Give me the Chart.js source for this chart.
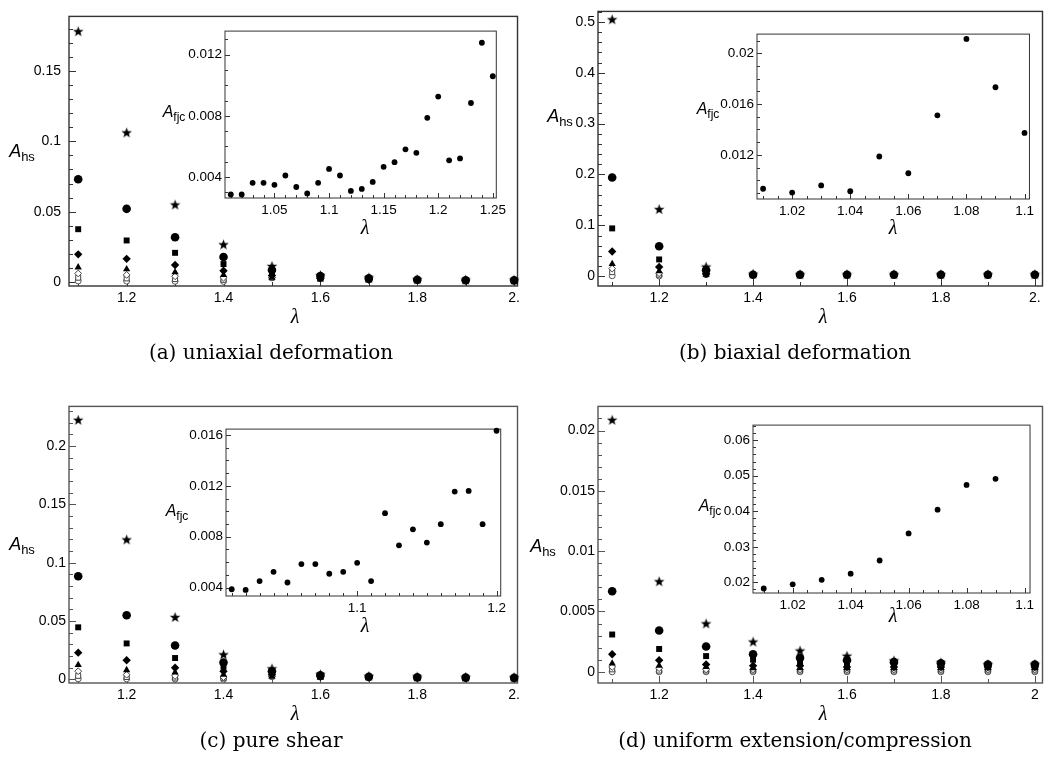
<!DOCTYPE html>
<html><head><meta charset="utf-8">
<script src="https://cdn.jsdelivr.net/npm/chart.js@4.4.1/dist/chart.umd.min.js"></script>
<style>
body{margin:0;background:#fff;width:1048px;height:770px;position:relative;overflow:hidden;font-family:"Liberation Sans",Arial,sans-serif;}
canvas{position:absolute;}
.lbl{position:absolute;white-space:nowrap;color:#000;transform:translate(-50%,-50%);line-height:1;}
.ah{font-style:italic;font-size:18px;}
.ah sub{font-style:normal;font-size:13px;vertical-align:-4px;}
.af{font-style:italic;font-size:16px;}
.af sub{font-style:normal;font-size:12px;vertical-align:-4px;}
.lam{font-family:"Liberation Serif",serif;font-style:italic;font-size:20px;}
.cap{font-family:"DejaVu Serif",serif;font-size:20px;}
</style></head><body>
<canvas id="ma" width="524" height="335" style="left:0;top:0"></canvas>
<canvas id="mb" width="524" height="335" style="left:524px;top:0"></canvas>
<canvas id="mc" width="524" height="340" style="left:0;top:395px"></canvas>
<canvas id="md" width="524" height="340" style="left:524px;top:395px"></canvas>
<canvas id="ia" width="335" height="206" style="left:175px;top:20px"></canvas>
<canvas id="ib" width="331" height="204" style="left:707px;top:23px"></canvas>
<canvas id="ic" width="334" height="206" style="left:176px;top:418px"></canvas>
<canvas id="id" width="335" height="207" style="left:703px;top:414px"></canvas>

<div class="lbl ah" style="left:22px;top:152px"><i>A</i><sub>hs</sub></div>
<div class="lbl ah" style="left:560px;top:117px"><i>A</i><sub>hs</sub></div>
<div class="lbl ah" style="left:22px;top:545px"><i>A</i><sub>hs</sub></div>
<div class="lbl ah" style="left:543px;top:547px"><i>A</i><sub>hs</sub></div>
<div class="lbl af" style="left:174px;top:113px"><i>A</i><sub>fjc</sub></div>
<div class="lbl af" style="left:708px;top:110px"><i>A</i><sub>fjc</sub></div>
<div class="lbl af" style="left:177px;top:512px"><i>A</i><sub>fjc</sub></div>
<div class="lbl af" style="left:710px;top:507px"><i>A</i><sub>fjc</sub></div>
<div class="lbl lam" style="left:295px;top:316px">λ</div>
<div class="lbl lam" style="left:823px;top:316px">λ</div>
<div class="lbl lam" style="left:295px;top:713px">λ</div>
<div class="lbl lam" style="left:823px;top:713px">λ</div>
<div class="lbl lam" style="left:365px;top:227px">λ</div>
<div class="lbl lam" style="left:893px;top:227px">λ</div>
<div class="lbl lam" style="left:365px;top:625px">λ</div>
<div class="lbl lam" style="left:893px;top:615px">λ</div>
<div class="lbl cap" style="left:271px;top:352px">(a) uniaxial deformation</div>
<div class="lbl cap" style="left:795px;top:352px">(b) biaxial deformation</div>
<div class="lbl cap" style="left:271px;top:740px">(c) pure shear</div>
<div class="lbl cap" style="left:795px;top:740px">(d) uniform extension/compression</div>

<script>
// ---------------- DATA ----------------
const lambdaMain = [1.1, 1.2, 1.3, 1.4, 1.5, 1.6, 1.7, 1.8, 1.9, 2.0];

const uniStar     = [0.178, 0.106, 0.0547, 0.0264, 0.011, 0.0045, 0.0028, 0.0016, 0.0013, 0.0012];
const uniCircle   = [0.073, 0.052, 0.0318, 0.0177, 0.0085, 0.0042, 0.0025, 0.0015, 0.0012, 0.0011];
const uniSquare   = [0.0375, 0.0295, 0.0207, 0.0127, 0.0065, 0.0033, 0.002, 0.0013, 0.001, 0.0009];
const uniDiamond  = [0.0196, 0.0164, 0.012, 0.008, 0.0045, 0.0025, 0.0016, 0.0011, 0.0009, 0.0008];
const uniTriangle = [0.0104, 0.009, 0.007, 0.005, 0.003, 0.0018, 0.0012, 0.0009, 0.0008, 0.0007];
const uniODiamond = [0.006, 0.005, 0.004, 0.003, 0.003, 0.0025, 0.0016, 0.0011, 0.0009, 0.0008];
const uniOSquare  = [0.003, 0.0025, 0.002, 0.0015, 0.003, 0.0025, 0.0016, 0.0011, 0.0009, 0.0008];
const uniOCircle  = [0.0007, 0.0006, 0.0005, 0.0004, 0.003, 0.0025, 0.0016, 0.0011, 0.0009, 0.0008];

const biStar     = [0.504, 0.131, 0.018, 0.004, 0.003, 0.003, 0.003, 0.003, 0.003, 0.003];
const biCircle   = [0.194, 0.059, 0.012, 0.003, 0.003, 0.003, 0.003, 0.003, 0.003, 0.003];
const biSquare   = [0.094, 0.033, 0.008, 0.003, 0.003, 0.003, 0.003, 0.003, 0.003, 0.003];
const biDiamond  = [0.0486, 0.018, 0.005, 0.003, 0.003, 0.003, 0.003, 0.003, 0.003, 0.003];
const biTriangle = [0.024, 0.01, 0.003, 0.003, 0.003, 0.003, 0.003, 0.003, 0.003, 0.003];
const biODiamond = [0.015, 0.006, 0.004, 0.003, 0.003, 0.003, 0.003, 0.003, 0.003, 0.003];
const biOSquare  = [0.008, 0.003, 0.004, 0.003, 0.003, 0.003, 0.003, 0.003, 0.003, 0.003];
const biOCircle  = [0.001, 0.0005, 0.003, 0.003, 0.003, 0.003, 0.003, 0.003, 0.003, 0.003];

const psStar     = [0.222, 0.1195, 0.053, 0.021, 0.009, 0.004, 0.0025, 0.002, 0.0017, 0.0015];
const psCircle   = [0.0884, 0.055, 0.029, 0.0144, 0.007, 0.0035, 0.0022, 0.0017, 0.0015, 0.0013];
const psSquare   = [0.0446, 0.0308, 0.0183, 0.011, 0.0055, 0.003, 0.002, 0.0015, 0.0013, 0.0012];
const psDiamond  = [0.0229, 0.0164, 0.010, 0.007, 0.004, 0.0022, 0.0016, 0.0013, 0.0011, 0.001];
const psTriangle = [0.0124, 0.008, 0.006, 0.004, 0.0025, 0.0015, 0.0012, 0.001, 0.0009, 0.0008];
const psODiamond = [0.007, 0.004, 0.003, 0.002, 0.0025, 0.0022, 0.0016, 0.0013, 0.0011, 0.001];
const psOSquare  = [0.003, 0.002, 0.0015, 0.001, 0.0025, 0.0022, 0.0016, 0.0013, 0.0011, 0.001];
const psOCircle  = [0.0005, 0.0004, 0.0003, 0.0002, 0.0025, 0.0022, 0.0016, 0.0013, 0.0011, 0.001];

const ueStar     = [0.02085, 0.00746, 0.00397, 0.00246, 0.00172, 0.00129, 0.0009, 0.00074, 0.0006, 0.0006];
const ueCircle   = [0.00667, 0.00342, 0.0021, 0.00145, 0.00115, 0.00095, 0.0008, 0.0007, 0.0006, 0.0006];
const ueSquare   = [0.00309, 0.00189, 0.0013, 0.001, 0.0008, 0.0007, 0.0006, 0.0005, 0.0005, 0.0005];
const ueDiamond  = [0.00145, 0.00096, 0.0006, 0.0005, 0.0005, 0.0004, 0.0004, 0.0004, 0.0004, 0.0004];
const ueTriangle = [0.0007, 0.0005, 0.0004, 0.0003, 0.0003, 0.0003, 0.0003, 0.0003, 0.0003, 0.0003];
const ueODiamond = [0.0004, 0.0003, 0.0002, 0.0002, 0.0002, 0.0002, 0.0002, 0.0002, 0.0002, 0.0002];
const ueOSquare  = [0.0002, 0.0001, 0.0001, 0.0001, 0.0001, 0.0001, 0.0001, 0.0001, 0.0001, 0.0001];
const ueOCircle  = [0, 0, 0, 0, 0, 0, 0, 0, 0, 0];

const lambdaInsetA = [1.01,1.02,1.03,1.04,1.05,1.06,1.07,1.08,1.09,1.10,1.11,1.12,1.13,1.14,1.15,1.16,1.17,1.18,1.19,1.20,1.21,1.22,1.23,1.24,1.25];
const fjcUniaxial  = [0.00286,0.00286,0.00362,0.00362,0.00349,0.0041,0.00335,0.00293,0.00362,0.00453,0.0041,0.00309,0.00322,0.00368,0.00467,0.00497,0.00581,0.00558,0.00787,0.00926,0.00509,0.00522,0.00884,0.01278,0.01059];
const lambdaInsetB = [1.01,1.02,1.03,1.04,1.05,1.06,1.07,1.08,1.09,1.10];
const fjcBiaxial   = [0.00933,0.00903,0.00959,0.00913,0.01187,0.01055,0.01512,0.02114,0.01733,0.01373];
const lambdaInsetC = [1.01,1.02,1.03,1.04,1.05,1.06,1.07,1.08,1.09,1.10,1.11,1.12,1.13,1.14,1.15,1.16,1.17,1.18,1.19,1.20];
const fjcShear     = [0.00387,0.00382,0.00451,0.00524,0.0044,0.00585,0.00585,0.00509,0.00524,0.00595,0.00451,0.00985,0.00732,0.00858,0.00754,0.00899,0.01155,0.0116,0.00899,0.01633];
const lambdaInsetD = [1.01,1.02,1.03,1.04,1.05,1.06,1.07,1.08,1.09];
const fjcUniform   = [0.01828,0.01946,0.02072,0.02244,0.02615,0.03376,0.04045,0.04742,0.04914];

// tick values and labels
const xTicksMain = [1.2, 1.4, 1.6, 1.8, 2.0];
const xTickLabelsABC = ['1.2', '1.4', '1.6', '1.8', '2.'];
const xTickLabelsD = ['1.2', '1.4', '1.6', '1.8', '2'];
const yTicksA = [0, 0.05, 0.1, 0.15];          const yLabelsA = ['0', '0.05', '0.1', '0.15'];
const yTicksB = [0, 0.1, 0.2, 0.3, 0.4, 0.5];  const yLabelsB = ['0', '0.1', '0.2', '0.3', '0.4', '0.5'];
const yTicksC = [0, 0.05, 0.1, 0.15, 0.2];     const yLabelsC = ['0', '0.05', '0.1', '0.15', '0.2'];
const yTicksD = [0, 0.005, 0.01, 0.015, 0.02]; const yLabelsD = ['0', '0.005', '0.01', '0.015', '0.02'];

const xTicksInA = [1.05, 1.1, 1.15, 1.2, 1.25]; const xLabelsInA = ['1.05', '1.1', '1.15', '1.2', '1.25'];
const yTicksInA = [0.004, 0.008, 0.012];        const yLabelsInA = ['0.004', '0.008', '0.012'];
const xTicksInB = [1.02, 1.04, 1.06, 1.08, 1.1]; const xLabelsInB = ['1.02', '1.04', '1.06', '1.08', '1.1'];
const yTicksInB = [0.012, 0.016, 0.02];          const yLabelsInB = ['0.012', '0.016', '0.02'];
const xTicksInC = [1.1, 1.2];                    const xLabelsInC = ['1.1', '1.2'];
const yTicksInC = [0.004, 0.008, 0.012, 0.016];  const yLabelsInC = ['0.004', '0.008', '0.012', '0.016'];
const xTicksInD = [1.02, 1.04, 1.06, 1.08, 1.1]; const xLabelsInD = ['1.02', '1.04', '1.06', '1.08', '1.1'];
const yTicksInD = [0.02, 0.03, 0.04, 0.05, 0.06]; const yLabelsInD = ['0.02', '0.03', '0.04', '0.05', '0.06'];

// ---------------- RENDERING ----------------
function makeStar(r) {
  const s = Math.ceil(r * 2) + 2;
  const c = document.createElement('canvas');
  c.width = s; c.height = s;
  const g = c.getContext('2d');
  g.fillStyle = '#000';
  g.beginPath();
  for (let k = 0; k < 10; k++) {
    const rr = k % 2 ? r * 0.42 : r;
    const ang = -Math.PI / 2 + k * Math.PI / 5;
    g.lineTo(s / 2 + rr * Math.cos(ang), s / 2 + rr * Math.sin(ang));
  }
  g.closePath(); g.fill();
  return c;
}
const STAR = makeStar(5.5);

const frameTicks = {
  id: 'frameTicks',
  beforeDatasetsDraw(chart, args, o) {
    const { ctx, chartArea: a, scales: { x, y } } = chart;
    ctx.save();
    if (o.fill) { ctx.fillStyle = '#fff'; ctx.fillRect(a.left, a.top, a.right - a.left, a.bottom - a.top); }
    ctx.strokeStyle = o.color; ctx.lineWidth = o.lw;
    ctx.strokeRect(a.left, a.top, a.right - a.left, a.bottom - a.top);
    ctx.lineWidth = 1;
    const minors = (scale, step) => {
      const out = [];
      const k0 = Math.ceil(scale.min / step - 1e-6), k1 = Math.floor(scale.max / step + 1e-6);
      for (let k = k0; k <= k1; k++) out.push(k * step);
      return out;
    };
    const yt = (v, len) => {
      const p = Math.round(y.getPixelForValue(v)) + 0.5;
      ctx.beginPath(); ctx.moveTo(a.left - o.out, p); ctx.lineTo(a.left + len, p); ctx.stroke();
    };
    const xt = (v, len) => {
      const p = Math.round(x.getPixelForValue(v)) + 0.5;
      ctx.beginPath(); ctx.moveTo(p, a.bottom + o.out); ctx.lineTo(p, a.bottom - len); ctx.stroke();
    };
    minors(y, o.yMinor).forEach(v => yt(v, o.minorLen));
    y.ticks.forEach(t => yt(t.value, o.majorLen));
    minors(x, o.xMinor).forEach(v => xt(v, o.minorLen));
    x.ticks.forEach(t => xt(t.value, o.majorLen));
    ctx.restore();
  }
};

// Chart.js paints dataset 0 on top, so the list is reversed: stars end up on top.
function seriesSet(vals, xs) {
  const st = [
    { s: 'circle',   r: 3.0, bg: '#fff', bc: '#555', bw: 1 },
    { s: 'rect',     r: 3.5, bg: '#fff', bc: '#444', bw: 1 },
    { s: 'rectRot',  r: 3.4, bg: '#fff', bc: '#444', bw: 1 },
    { s: 'triangle', r: 4.2, bg: '#000', bc: '#000', bw: 0 },
    { s: 'rectRot',  r: 4.2, bg: '#000', bc: '#000', bw: 0 },
    { s: 'rect',     r: 4.2, bg: '#000', bc: '#000', bw: 0 },
    { s: 'circle',   r: 4.3, bg: '#000', bc: '#000', bw: 0 },
    { s: STAR,       r: 5.5, bg: '#000', bc: '#000', bw: 0 }
  ];
  return vals.map((arr, j) => ({
    data: xs.map((l, i) => ({ x: l, y: arr[i] })),
    pointStyle: st[j].s, pointRadius: st[j].r, backgroundColor: st[j].bg,
    borderColor: st[j].bc, borderWidth: st[j].bw, showLine: false, clip: false
  })).reverse();
}

function build(id, datasets, p) {
  new Chart(document.getElementById(id), {
    type: 'scatter',
    data: { datasets },
    options: {
      responsive: false, animation: false, events: [],
      layout: { padding: { left: 0, top: p.padTop, right: p.padRight, bottom: 0 } },
      plugins: { legend: { display: false }, tooltip: { enabled: false },
        frameTicks: { fill: p.fill, color: p.frameColor, lw: p.frameLw, out: p.out, majorLen: p.majorLen, minorLen: p.minorLen, xMinor: p.xMinor, yMinor: p.yMinor } },
      scales: {
        x: {
          type: 'linear', min: p.xMin, max: p.xMax,
          afterFit: s => { s.height = p.xHeight; },
          afterBuildTicks: s => { s.ticks = p.xTicks.map(v => ({ value: v })); },
          grid: { display: false, drawTicks: false }, border: { display: false },
          ticks: { autoSkip: false, maxRotation: 0, padding: p.xPad, color: '#000',
            font: { family: 'Liberation Sans', size: p.fs }, callback: (v, i) => p.xLabels[i] }
        },
        y: {
          type: 'linear', min: p.yMin, max: p.yMax,
          afterFit: s => { s.width = p.yWidth; },
          afterBuildTicks: s => { s.ticks = p.yTicks.map(v => ({ value: v })); },
          grid: { display: false, drawTicks: false }, border: { display: false },
          ticks: { autoSkip: false, padding: p.yPad, color: '#000',
            font: { family: 'Liberation Sans', size: p.fs }, callback: (v, i) => p.yLabels[i] }
        }
      }
    },
    plugins: [frameTicks]
  });
}

const mainCommon = { fill: false, frameLw: 1.4, out: 0, majorLen: 7, minorLen: 4, xMinor: 0.1, fs: 14, xPad: 4 };

build('ma', seriesSet([uniOCircle, uniOSquare, uniODiamond, uniTriangle, uniDiamond, uniSquare, uniCircle, uniStar], lambdaMain),
  Object.assign({}, mainCommon, { frameColor: '#333', padTop: 5, padRight: 5, yWidth: 69, xHeight: 49, xMin: 1.081, xMax: 2.007, yMin: -0.0029, yMax: 0.1889,
    xTicks: xTicksMain, xLabels: xTickLabelsABC, yTicks: yTicksA, yLabels: yLabelsA, yMinor: 0.01, yPad: 8 }));
build('mb', seriesSet([biOCircle, biOSquare, biODiamond, biTriangle, biDiamond, biSquare, biCircle, biStar], lambdaMain),
  Object.assign({}, mainCommon, { frameColor: '#333', padTop: 5, padRight: 2, yWidth: 74, xHeight: 49, xMin: 1.0698, xMax: 2.0163, yMin: -0.0192, yMax: 0.5205,
    xTicks: xTicksMain, xLabels: xTickLabelsABC, yTicks: yTicksB, yLabels: yLabelsB, yMinor: 0.02, yPad: 3 }));
build('mc', seriesSet([psOCircle, psOSquare, psODiamond, psTriangle, psDiamond, psSquare, psCircle, psStar], lambdaMain),
  Object.assign({}, mainCommon, { frameColor: '#555', padTop: 8, padRight: 5, yWidth: 69, xHeight: 52, xMin: 1.081, xMax: 2.007, yMin: -0.0031, yMax: 0.2339,
    xTicks: xTicksMain, xLabels: xTickLabelsABC, yTicks: yTicksC, yLabels: yLabelsC, yMinor: 0.01, yPad: 3 }));
build('md', seriesSet([ueOCircle, ueOSquare, ueODiamond, ueTriangle, ueDiamond, ueSquare, ueCircle, ueStar], lambdaMain),
  Object.assign({}, mainCommon, { frameColor: '#555', padTop: 8, padRight: 2, yWidth: 74, xHeight: 52, xMin: 1.0698, xMax: 2.0163, yMin: -0.00093, yMax: 0.0220,
    xTicks: xTicksMain, xLabels: xTickLabelsD, yTicks: yTicksD, yLabels: yLabelsD, yMinor: 0.001, yPad: 3 }));

function insetSet(xs, ys) {
  return [{ data: xs.map((l, i) => ({ x: l, y: ys[i] })), pointStyle: 'circle', pointRadius: 2.9,
    backgroundColor: '#000', borderWidth: 0, showLine: false, clip: false }];
}
const insetCommon = { fill: true, frameColor: '#333', frameLw: 1, out: 0, majorLen: 5, minorLen: 3, fs: 13.5, xPad: 4, yPad: 3, padTop: 5, padRight: 5, yWidth: 50, xHeight: 28 };

build('ia', insetSet(lambdaInsetA, fjcUniaxial), Object.assign({}, insetCommon, { xMin: 1.0047, xMax: 1.2532, yMin: 0.00263, yMax: 0.01354,
  xTicks: xTicksInA, xLabels: xLabelsInA, yTicks: yTicksInA, yLabels: yLabelsInA, xMinor: 0.01, yMinor: 0.001 }));
build('ib', insetSet(lambdaInsetB, fjcBiaxial), Object.assign({}, insetCommon, { xMin: 1.0079, xMax: 1.1017, yMin: 0.00852, yMax: 0.02152,
  xTicks: xTicksInB, xLabels: xLabelsInB, yTicks: yTicksInB, yLabels: yLabelsInB, xMinor: 0.005, yMinor: 0.001 }));
build('ic', insetSet(lambdaInsetC, fjcShear), Object.assign({}, insetCommon, { xMin: 1.0059, xMax: 1.203, yMin: 0.00334, yMax: 0.01646,
  xTicks: xTicksInC, xLabels: xLabelsInC, yTicks: yTicksInC, yLabels: yLabelsInC, xMinor: 0.01, yMinor: 0.001 }));
build('id', insetSet(lambdaInsetD, fjcUniform), Object.assign({}, insetCommon, { xMin: 1.0063, xMax: 1.1019, yMin: 0.01701, yMax: 0.06425,
  xTicks: xTicksInD, xLabels: xLabelsInD, yTicks: yTicksInD, yLabels: yLabelsInD, xMinor: 0.005, yMinor: 0.002 }));
</script>
</body></html>
